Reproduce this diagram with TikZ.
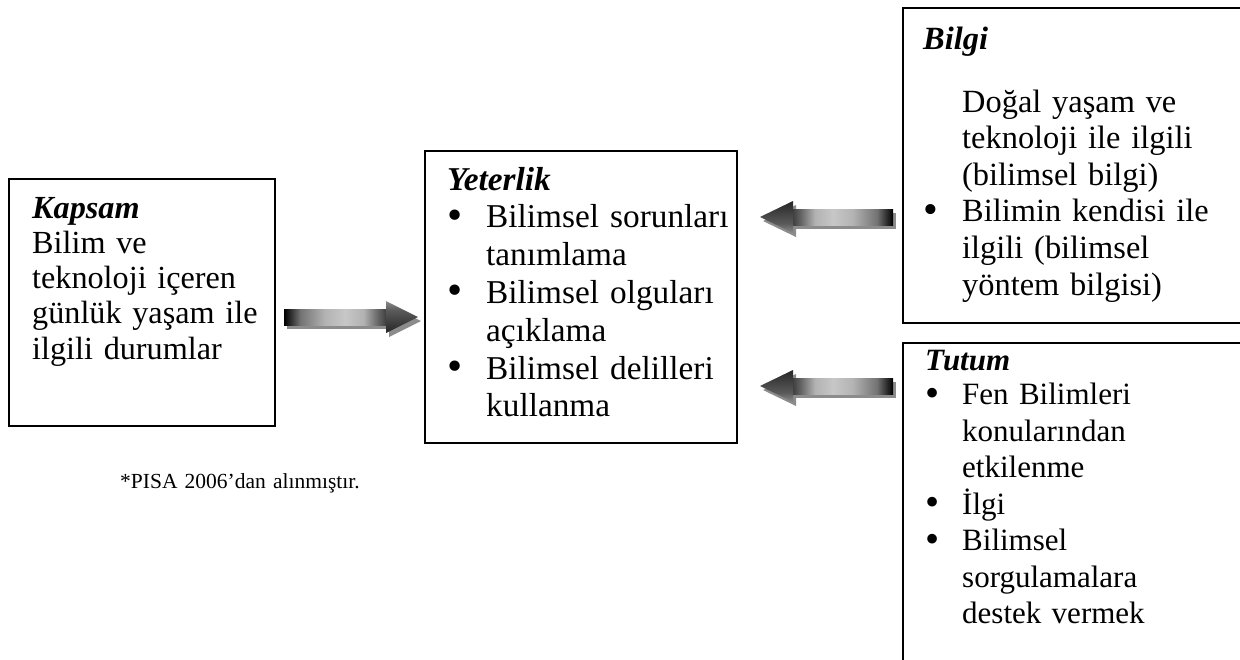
\documentclass[tikz,border=0pt]{standalone}
\usepackage{fontspec}
\setmainfont{Liberation Serif}
\pgfdeclarehorizontalshading{shaftshade}{100bp}{color(0bp)=(black); color(25bp)=(black); color(33bp)=(black!55); color(45bp)=(black!30); color(55bp)=(black!22); color(64bp)=(black!30); color(71bp)=(black!60); color(75bp)=(black!75); color(100bp)=(black!75)}
\pgfdeclarehorizontalshading{headshade}{100bp}{color(0bp)=(black!85); color(25bp)=(black!85); color(60bp)=(black!65); color(75bp)=(black!45); color(100bp)=(black!45)}
\tikzset{
  box/.style={draw, line width=1.8pt},
  txt/.style={anchor=base west, inner sep=0pt, align=left, text width=#1},
  txt/.default=300pt,
  arrowshadow/.style={fill=black!45},
}
\newlength\bulw
\setlength\bulw{39pt}
\newcommand{\bul}{\makebox[\bulw][l]{\raisebox{-1.5pt}{\scalebox{1.3}{\textbullet}}}}
\newcommand{\ind}{\hspace*{\bulw}}
\newcommand{\hd}[1]{\textbf{\textit{#1}}}
% #1 tail x, #2 head base x, #3 tip x, #4 centre y, #5 shading angle
\newcommand{\blockarrow}[5]{%
  \begin{scope}[shift={(3,4)}]
    \fill[arrowshadow] (#1,#4-8) rectangle (#2,#4+8);
    \fill[arrowshadow] (#2,#4-16) -- (#3,#4) -- (#2,#4+16) -- cycle;
  \end{scope}
  \shade[shading=shaftshade, shading angle=#5] (#1,#4-8) rectangle (#2,#4+8);
  \shade[shading=headshade, shading angle=#5+90] (#2,#4-16) -- (#3,#4) -- (#2,#4+16) -- cycle;
}
\begin{document}
\begin{tikzpicture}[x=1pt, y=-1pt]
\useasboundingbox (0,0) rectangle (1240,659);
\clip (0,0) rectangle (1240,659);

% boxes
\draw[box] (9,179) rectangle (275,426);
\draw[box] (425,151) rectangle (737,443);
\draw[box] (1250,8) -- (903,8) -- (903,323) -- (1250,323);
\draw[box] (1250,343) -- (903,343) -- (903,670);

% texts
\node[txt, font=\fontsize{32.2}{35.3}\selectfont] (kapsam) at (32,218) {\hd{Kapsam}\\ Bilim ve\\ teknoloji içeren\\ günlük yaşam ile\\ ilgili durumlar};

\node[txt, font=\fontsize{33.3}{37.8}\selectfont] (yeterlik) at (447,190) {\setlength\bulw{39pt}\hd{Yeterlik}\\
\bul Bilimsel sorunları\\ \ind tanımlama\\
\bul Bilimsel olguları\\ \ind açıklama\\
\bul Bilimsel delilleri\\ \ind kullanma};

\node[txt, font=\fontsize{32.4}{36.6}\selectfont] (bilgi) at (923,49) {\setlength\bulw{39pt}\hd{Bilgi}\\[26.4pt]
\ind Doğal yaşam ve\\ \ind teknoloji ile ilgili\\ \ind (bilimsel bilgi)\\
\bul Bilimin kendisi ile\\ \ind ilgili (bilimsel\\ \ind yöntem bilgisi)};

\node[txt, font=\fontsize{31}{36.5}\selectfont] (tutum) at (925,370) {\setlength\bulw{37pt}\hd{Tutum}\\[-2pt]
\bul Fen Bilimleri\\ \ind konularından\\ \ind etkilenme\\
\bul İlgi\\
\bul Bilimsel\\ \ind sorgulamalara\\ \ind destek vermek};

\node[txt, font=\fontsize{21.5}{25}\selectfont] (note) at (120,488) {*PISA 2006’dan alınmıştır.};

% block arrows
\blockarrow{284}{386}{418}{317}{0}
\blockarrow{893}{793}{760}{217}{180}
\blockarrow{893}{793}{760}{386}{180}
\end{tikzpicture}
\end{document}
